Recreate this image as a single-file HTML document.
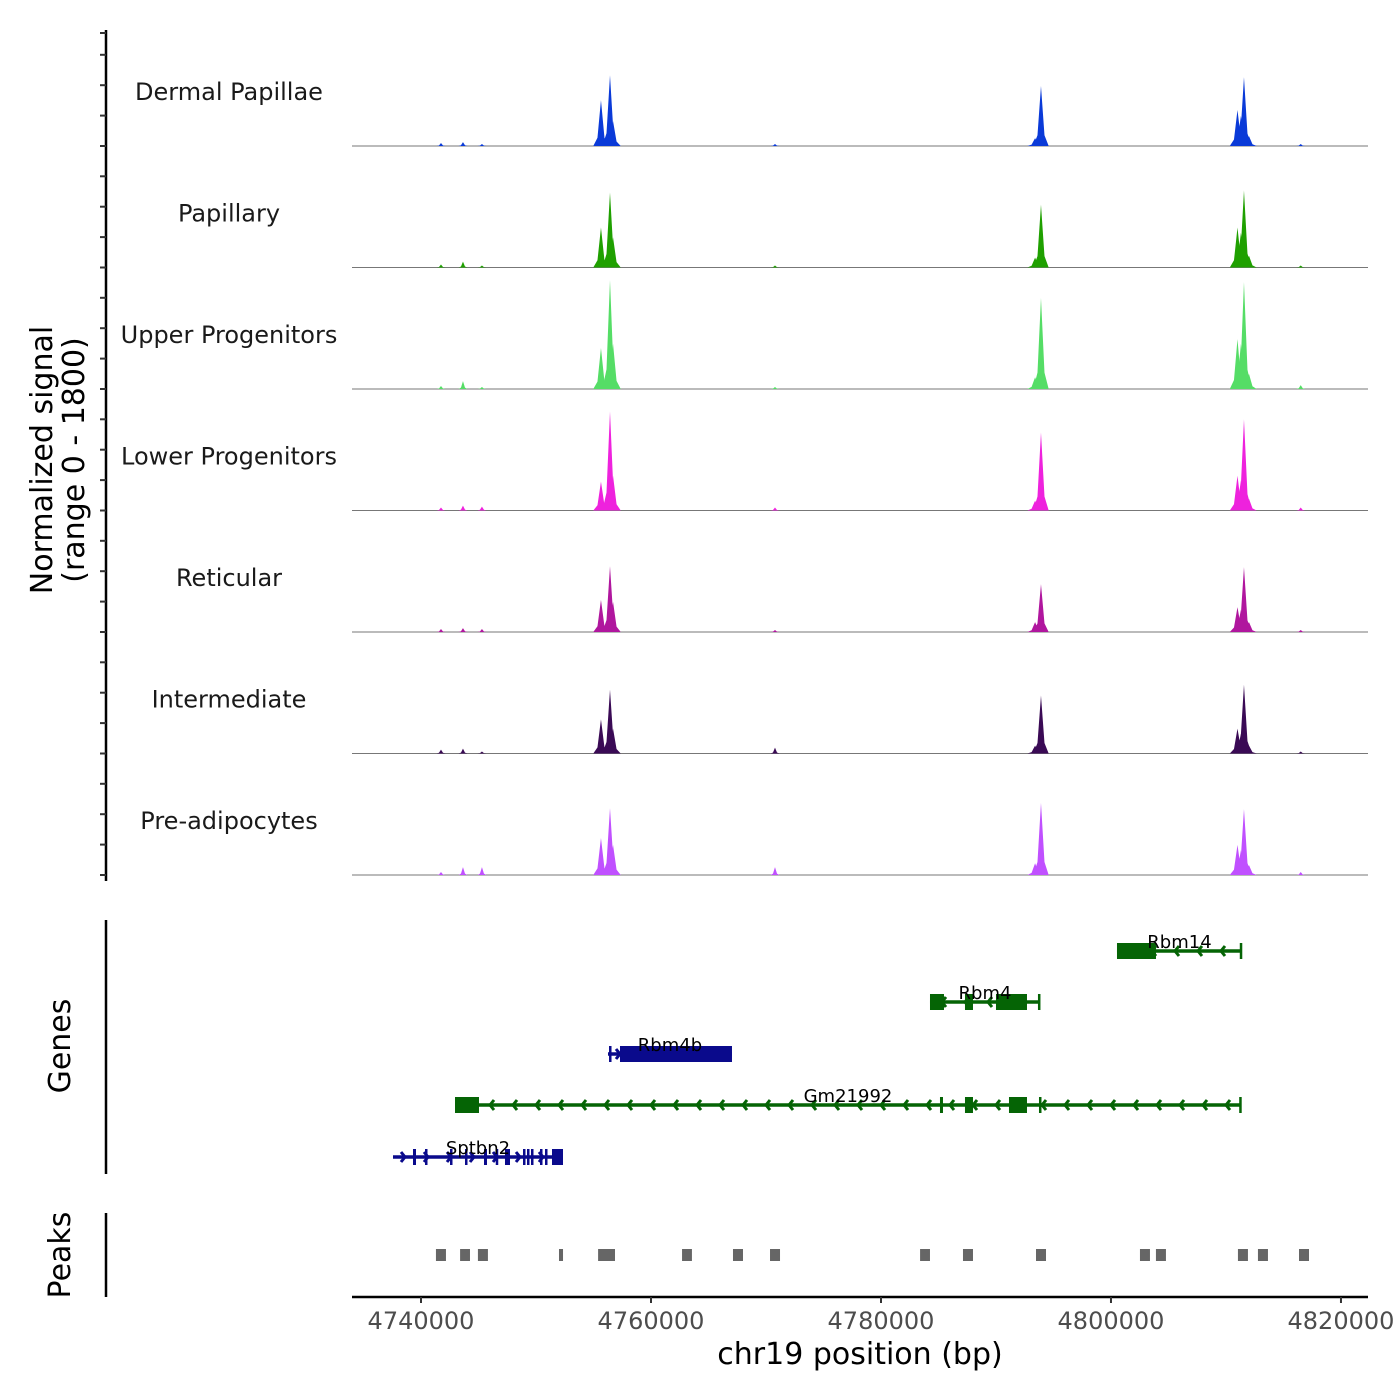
<!DOCTYPE html>
<html><head><meta charset="utf-8"><style>
body{margin:0;background:#fff}
svg{display:block;font-family:"DejaVu Sans","Liberation Sans",sans-serif}
</style></head><body>
<svg id="chart" width="1400" height="1400" viewBox="0 0 1400 1400" xmlns="http://www.w3.org/2000/svg">
<rect width="1400" height="1400" fill="#fff"/>
<g id="signal"></g>
<g id="genes"></g>
<g id="peaks"></g>
<g id="axes"></g>
</svg>
<script>
const trackNames = ["Dermal Papillae","Papillary","Upper Progenitors","Lower Progenitors","Reticular","Intermediate","Pre-adipocytes"];
const trackColors = ["#0a3ad8","#1fa000","#55dd66","#ee22dd","#b0169e","#3a0a55","#c050ff"];
const lociBp = [4755650,4756435,4756700,4793400,4793913,4811000,4811300,4811565,4812000,4741739,4743650,4745300,4770783,4816500];
const sigDermal = [700,1080,380,120,915,550,460,1050,150,45,60,30,30,30];
const sigPapillary = [610,1145,460,150,960,610,530,1175,180,45,90,30,30,30];
const sigUpper = [625,1660,690,180,1390,760,690,1630,230,45,120,30,30,60];
const sigLower = [440,1510,530,150,1190,530,460,1390,180,45,75,60,45,45];
const sigReticular = [490,1005,460,150,730,380,340,990,150,45,60,45,30,30];
const sigIntermediate = [520,975,380,120,885,380,300,1050,120,60,75,30,90,30];
const sigPreadipo = [565,1020,460,180,1100,460,380,1005,150,45,120,120,120,45];
const signals = [sigDermal,sigPapillary,sigUpper,sigLower,sigReticular,sigIntermediate,sigPreadipo];
const xTicks = [4740000,4760000,4780000,4800000,4820000];
const geneNames = ["Rbm14","Rbm4","Rbm4b","Gm21992","Sptbn2"];
const geneStrand = ["-","-","+","-","+"];
const geneSpan = [[4800522,4811391],[4784261,4793826],[4756261,4767043],[4742957,4811304],[4737565,4752348]];
const geneExons = [
 [[4800522,4803913],[4811200,4811391]],
 [[4784261,4785478],[4787304,4788000],[4790000,4792696],[4793650,4793826]],
 [[4757304,4767043],[4756350,4756450]],
 [[4742957,4745043],[4785130,4785391],[4787304,4788000],[4791130,4792696],[4793739,4793913],[4811150,4811304]],
 [[4739304,4739565],[4740348,4740500],[4742522,4742700],[4743826,4744000],[4745478,4745739],[4746500,4746700],[4747304,4747739],[4748870,4749000],[4749217,4749350],[4749565,4749700],[4750348,4750500],[4750783,4750900],[4751391,4752348]]
];
const peakStart = [4741300,4743400,4744950,4752000,4755400,4756000,4762700,4767130,4770350,4783400,4787130,4793480,4802520,4803910,4811040,4812780,4816350];
const peakEnd = [4742170,4744260,4745820,4752350,4756250,4756870,4763560,4768000,4771220,4784260,4788000,4794350,4803390,4804780,4811910,4813650,4817220];

const NS="http://www.w3.org/2000/svg";
const X0=352,X1=1368,BP0=4734000,BP1=4822350;
const xs=b=>X0+(b-BP0)/(BP1-BP0)*(X1-X0);
function mk(tag,attrs,parent){const e=document.createElementNS(NS,tag);for(const k in attrs)e.setAttribute(k,attrs[k]);parent.appendChild(e);return e;}
const gS=document.getElementById('signal'),gG=document.getElementById('genes'),gP=document.getElementById('peaks'),gA=document.getElementById('axes');
const TH=121.5,B0=146,YMAX=1800,PXH=118;
signals.forEach((vals,i)=>{
  const base=B0+i*TH;
  const g=mk('g',{},gS);
  
  
  const lab=mk('text',{x:229,y:base-46,'text-anchor':'middle','font-size':24,fill:'#1a1a1a'},g);
  lab.textContent=trackNames[i];
  
  
  const bl=mk('line',{x1:X0,x2:X1,y1:base,y2:base,stroke:'#777','stroke-width':1},g);
  
  
  vals.forEach((v,j)=>{
    const x=xs(lociBp[j]),h=v/YMAX*PXH,w=j<9?3.5:2;
    const p=mk('polygon',{points:`${x-w*2.2},${base} ${x-w},${base-h*0.18} ${x},${base-h} ${x+w},${base-h*0.18} ${x+w*2.2},${base}`,fill:trackColors[i]},g);
    
    
  });
});
const yl=mk('line',{x1:106,x2:106,y1:30,y2:881,stroke:'#000','stroke-width':2.5},gA);


for(let i=0;i<7;i++){for(let k=0;k<4;k++){const y=B0+i*TH-k*30.4;
  const t=mk('line',{x1:100,x2:106,y1:y,y2:y,stroke:'#333','stroke-width':2},gA);
  
  }}
const t0=mk('line',{x1:100,x2:106,y1:33,y2:33,stroke:'#333','stroke-width':2},gA);


const yt=mk('text',{transform:'translate(52,460) rotate(-90)','text-anchor':'middle','font-size':30,fill:'#000'},gA);


yt.innerHTML='<tspan x="0" dy="0">Normalized signal</tspan><tspan x="0" dy="32">(range 0 - 1800)</tspan>';
const ga=mk('line',{x1:106,x2:106,y1:920,y2:1174,stroke:'#000','stroke-width':2.5},gA);


const gt=mk('text',{transform:'translate(70,1046) rotate(-90)','text-anchor':'middle','font-size':30},gA);
gt.textContent='Genes';


const pa=mk('line',{x1:106,x2:106,y1:1213,y2:1297,stroke:'#000','stroke-width':2.5},gA);


const pt=mk('text',{transform:'translate(70,1255) rotate(-90)','text-anchor':'middle','font-size':30},gA);
pt.textContent='Peaks';


const rowY=[951,1002,1054,1105,1157];
geneNames.forEach((n,i)=>{
  const col=geneStrand[i]=='+'?'#0a0a8c':'#056405',y=rowY[i];
  const g=mk('g',{},gG);
  
  
  const a=xs(geneSpan[i][0]),b=xs(geneSpan[i][1]);
  mk('line',{x1:a,x2:b,y1:y,y2:y,stroke:col,'stroke-width':3.5},g);
  for(let x=a+12;x<b-6;x+=23){const d=geneStrand[i]=='+'?4:-4;
    mk('polyline',{points:`${x-d},${y-5} ${x},${y} ${x-d},${y+5}`,fill:'none',stroke:col,'stroke-width':3},g);}
  geneExons[i].forEach(e=>{const ea=xs(e[0]),eb=xs(e[1]);
    const r=mk('rect',{x:ea,y:y-8,width:Math.max(2.5,eb-ea),height:16,fill:col},g);
    
    });
  const lab=mk('text',{x:(a+b)/2,y:y-3,'text-anchor':'middle','font-size':18,fill:'#000'},g);
  lab.textContent=n;
  
  
});
peakStart.forEach((s,i)=>{
  const r=mk('rect',{x:xs(s),y:1249,width:xs(peakEnd[i])-xs(s),height:12,fill:'#666'},gP);
  
  
});
const xl=mk('line',{x1:X0,x2:X1,y1:1297,y2:1297,stroke:'#000','stroke-width':2.5},gA);


xTicks.forEach(t=>{const x=xs(t);
  const tk=mk('line',{x1:x,x2:x,y1:1297,y2:1303,stroke:'#333','stroke-width':2},gA);
  
  
  const l=mk('text',{x:x,y:1329,'text-anchor':'middle','font-size':24,fill:'#4d4d4d'},gA);
  l.textContent=t;
  
  });
const xt=mk('text',{x:860,y:1364,'text-anchor':'middle','font-size':30},gA);
xt.textContent='chr19 position (bp)';


</script>
</body></html>
